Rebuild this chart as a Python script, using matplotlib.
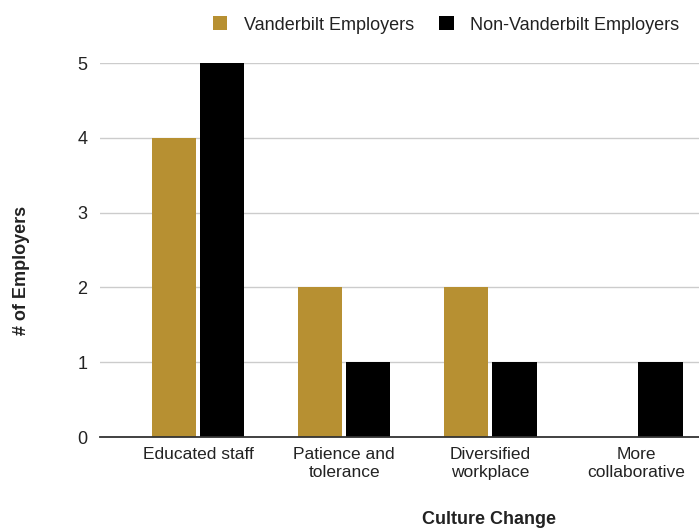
import matplotlib
matplotlib.use("Agg")
import matplotlib.pyplot as plt
import numpy as np
from matplotlib.patches import Patch

categories = ["Educated staff", "Patience and\ntolerance", "Diversified\nworkplace", "More\ncollaborative"]
vanderbilt = [4, 2, 2, 0]
non_vanderbilt = [5, 1, 1, 1]
y_ticks = [0, 1, 2, 3, 4, 5]

GOLD = "#B79032"
BLACK = "#000000"

plt.rcParams["font.family"] = ["Liberation Sans", "DejaVu Sans"]

W, H = 699, 529
fig = plt.figure(figsize=(W / 100, H / 100), dpi=100)
left, right, top, bottom = 100, 699, 63, 437
ax = fig.add_axes([left / W, 1 - bottom / H, (right - left) / W, (bottom - top) / H])

x = np.arange(len(categories))
bw = 0.305
off = 0.165
ax.bar(x - off, vanderbilt, width=bw, color=GOLD, zorder=3)
ax.bar(x + off, non_vanderbilt, width=bw, color=BLACK, zorder=3)

ax.set_xlim(-0.671, 3.43)
ax.set_ylim(0, 5)
ax.set_yticks(y_ticks)
ax.set_yticklabels([str(v) for v in y_ticks], fontsize=13, color="#222222")
ax.set_xticks(x)
ax.set_xticklabels(categories, fontsize=12.5, color="#222222", linespacing=1.3)
ax.tick_params(axis="both", length=0)
ax.tick_params(axis="y", pad=9)
ax.tick_params(axis="x", pad=7)

ax.grid(axis="y", color="#cccccc", linewidth=1, zorder=0)
for s in ["top", "right", "left"]:
    ax.spines[s].set_visible(False)
ax.spines["bottom"].set_color("#333333")
ax.spines["bottom"].set_linewidth(1.3)
ax.spines["bottom"].set_zorder(4)

fig.text(22 / W, 1 - 270 / H, "# of Employers", rotation=90, ha="center", va="center",
         fontsize=13, fontweight="bold", color="#222222")
fig.text(489 / W, 1 - 520 / H, "Culture Change", ha="center", va="center",
         fontsize=13, fontweight="bold", color="#222222")

handles = [Patch(facecolor=GOLD, edgecolor="none", label="Vanderbilt Employers"),
           Patch(facecolor=BLACK, edgecolor="none", label="Non-Vanderbilt Employers")]
fig.legend(handles=handles, ncol=2, frameon=False, loc="center",
           bbox_to_anchor=(446 / W, 1 - 25 / H), fontsize=13,
           handlelength=0.8, handleheight=0.8, handletextpad=0.9,
           columnspacing=1.4, labelcolor="#222222")

fig.savefig("out.png", dpi=100, facecolor="white")
